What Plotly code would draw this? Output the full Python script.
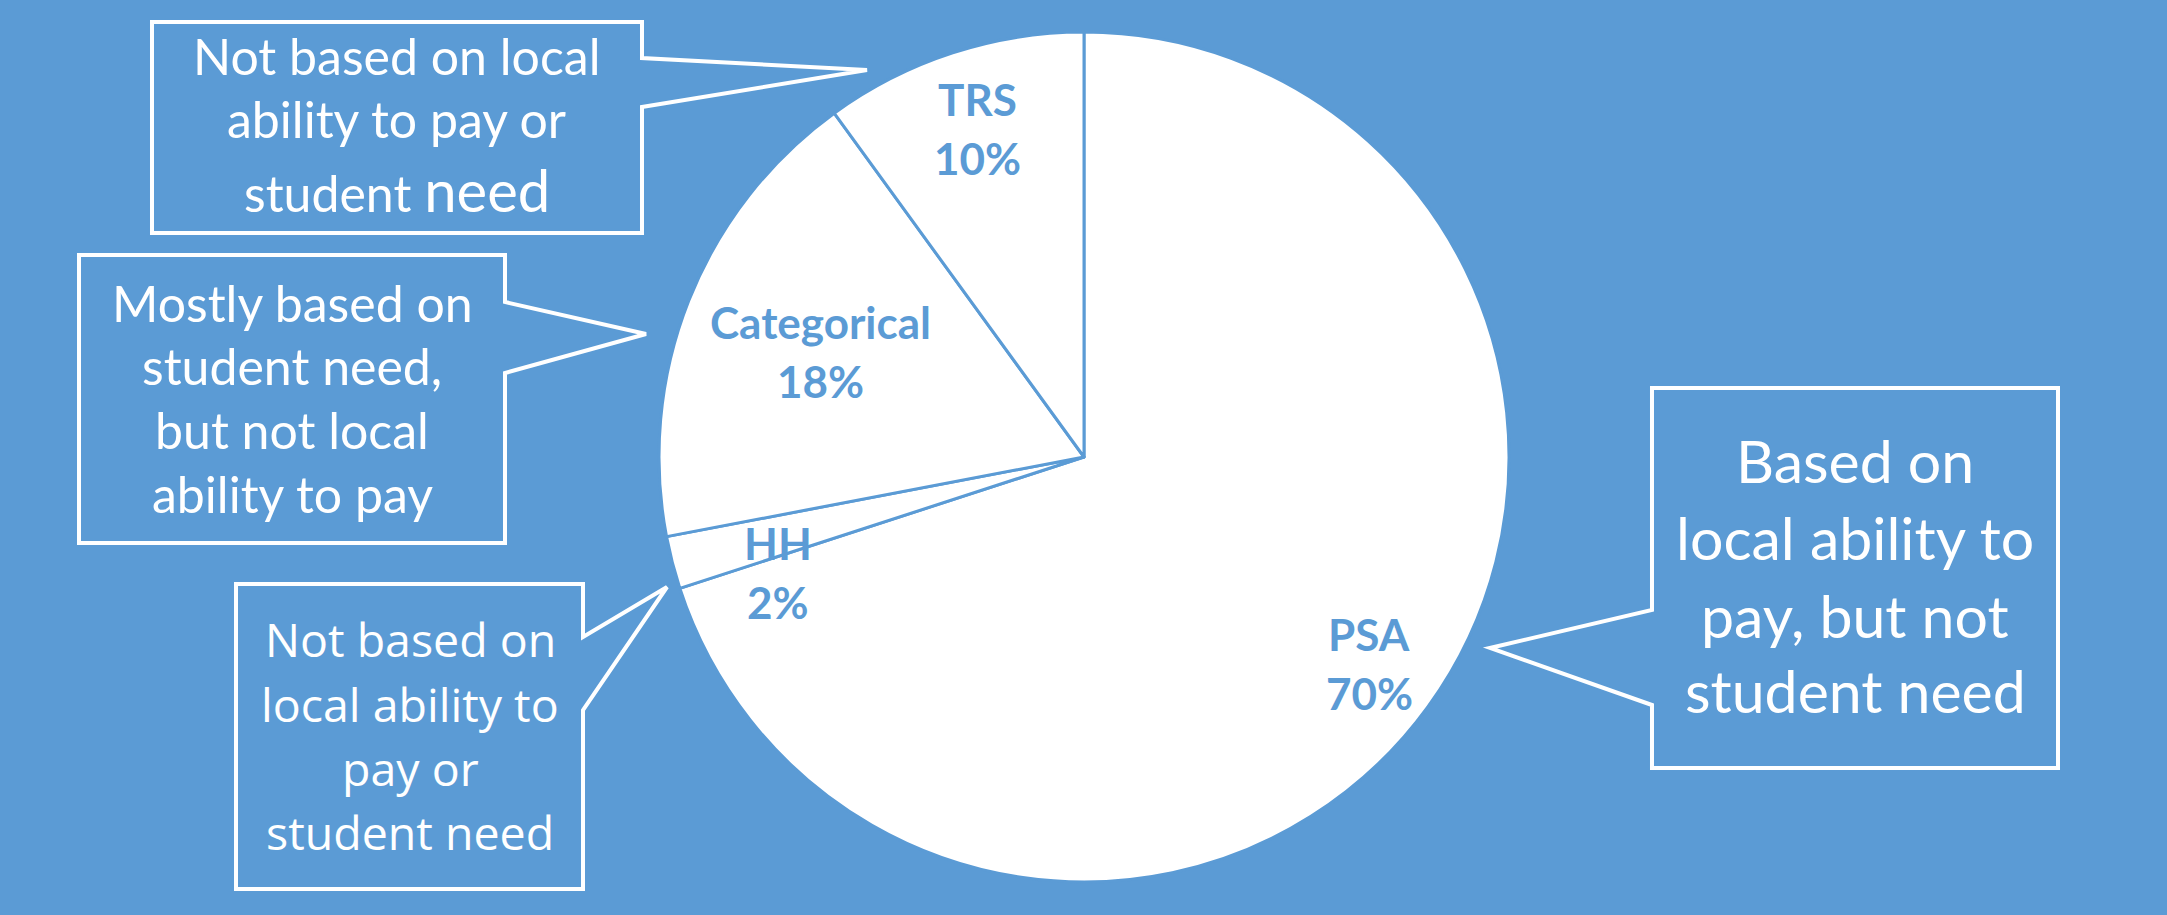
import math
import plotly.graph_objects as go

# ---- data ----
labels = ["PSA", "HH", "Categorical", "TRS"]
values = [70, 2, 18, 10]
pct_text = ["70%", "2%", "18%", "10%"]

callout1_lines = ["Not based on local", "ability to pay or",
                  "student <span style='font-size:58px'>need</span>"]
callout2_lines = ["Mostly based on", "student need,", "but not local", "ability to pay"]
callout3_lines = ["Not based on", "local ability to", "pay or", "student need"]
callout4_lines = ["Based on", "local ability to", "pay, but not", "student need"]

# ---- layout constants ----
W, H = 2167, 915
BG = "#5b9bd5"
CX, CY, R = 1084, 457, 425
FONT = "Lato, Carlito, Calibri, sans-serif"
BOLD_SIZE = 44
LABEL_SP = 59


def px(x):
    return x / W


def py(y):
    return 1 - y / H


fig = go.Figure()
fig.add_trace(go.Pie(
    labels=labels, values=values, sort=False, direction="clockwise", rotation=0,
    marker=dict(colors=["white"] * len(values), line=dict(color=BG, width=3)),
    textinfo="none", hoverinfo="label+percent", showlegend=False,
    domain=dict(x=[px(CX - R), px(CX + R)], y=[py(CY + R), py(CY - R)]),
))

annotations = []


def add_line(text, x, baseline, size, family, bold=False, color="white", maxsize=None):
    ms = maxsize or size
    yc = baseline - 0.387 * ms
    annotations.append(dict(
        x=px(x), y=py(yc), xref="paper", yref="paper", showarrow=False,
        xanchor="center", yanchor="middle", align="center",
        text=f"<b>{text}</b>" if bold else text,
        font=dict(family=family, size=size, color=color),
    ))


# slice labels placed along each slice's mid-angle
radial = {"PSA": 0.83, "HH": 0.77, "Categorical": 0.668, "TRS": 0.81}
angle_shift = {"HH": -6.4}
total = sum(values)
cum = 0
for lab, v, p in zip(labels, values, pct_text):
    mid = (cum + v / 2) / total * 360 + angle_shift.get(lab, 0)
    cum += v
    rr = radial[lab] * R
    x = CX + rr * math.sin(math.radians(mid))
    c = CY - rr * math.cos(math.radians(mid))
    cap_half = 0.36 * BOLD_SIZE
    add_line(lab, x, c - LABEL_SP / 2 + cap_half, BOLD_SIZE, FONT, bold=True, color=BG)
    add_line(p, x, c + LABEL_SP / 2 + cap_half, BOLD_SIZE, FONT, bold=True, color=BG)

# callout boxes
callouts = [
    dict(rect=(152, 22, 642, 233), side="right", ptr=(58, (867, 70), 107),
         cx=397, baselines=[75, 138, 212], size=50, maxsize=[None, None, 58],
         family=FONT, lines=callout1_lines),
    dict(rect=(79, 255, 505, 543), side="right", ptr=(302, (646, 334), 373),
         cx=292, baselines=[322, 385, 449, 513], size=50, maxsize=None,
         family=FONT, lines=callout2_lines),
    dict(rect=(236, 584, 583, 889), side="right", ptr=(637, (667, 587), 710),
         cx=410, baselines=[657, 722, 786, 850], size=46.5, maxsize=None,
         family="Open Sans, sans-serif", lines=callout3_lines),
    dict(rect=(1652, 388, 2058, 768), side="left", ptr=(610, (1490, 648), 705),
         cx=1855, baselines=[483, 560, 638, 713], size=59, maxsize=None,
         family=FONT, lines=callout4_lines),
]

shapes = []
for co in callouts:
    x0, y0, x1, y1 = co["rect"]
    b1, (tx, ty), b2 = co["ptr"]
    if co["side"] == "right":
        pts = [(x0, y0), (x1, y0), (x1, b1), (tx, ty), (x1, b2), (x1, y1), (x0, y1)]
    else:
        pts = [(x0, y0), (x1, y0), (x1, y1), (x0, y1), (x0, b2), (tx, ty), (x0, b1)]
    path = "M " + " L ".join(f"{px(a):.5f},{py(b):.5f}" for a, b in pts) + " Z"
    shapes.append(dict(type="path", path=path, xref="paper", yref="paper",
                       line=dict(color="white", width=4), fillcolor=BG))
    ms = co["maxsize"] or [None] * len(co["lines"])
    for line, bl, m in zip(co["lines"], co["baselines"], ms):
        add_line(line, co["cx"], bl, co["size"], co["family"], maxsize=m)

fig.update_layout(
    width=W, height=H, paper_bgcolor=BG, plot_bgcolor=BG,
    margin=dict(l=0, r=0, t=0, b=0),
    shapes=shapes, annotations=annotations,
)

fig.write_html(
    "out.html",
    config={"displayModeBar": False},
    post_script="document.body.style.margin='0px';document.body.style.overflow='hidden';"
                "document.body.style.background='" + BG + "';",
)
